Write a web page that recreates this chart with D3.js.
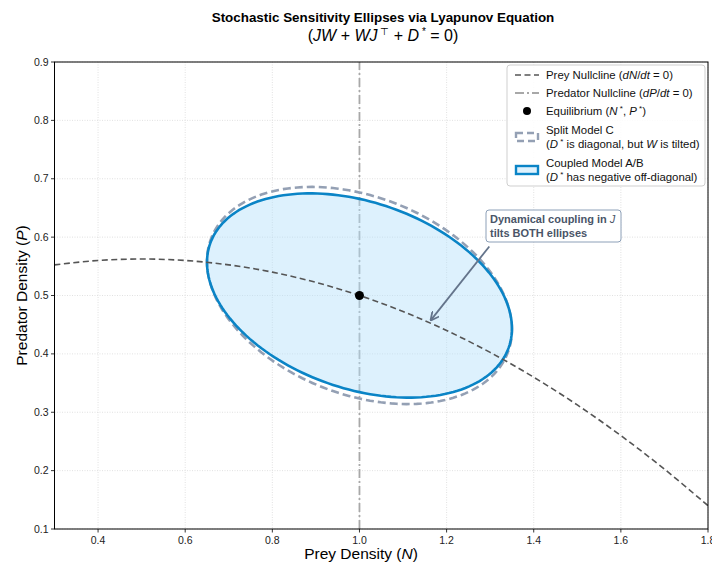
<!DOCTYPE html>
<html><head><meta charset="utf-8">
<script src="https://cdn.jsdelivr.net/npm/d3@7"></script>
<style>
body{margin:0;background:#fff;}
text{font-family:"Liberation Sans",Arial,sans-serif;}
</style></head>
<body><svg id="c" width="712" height="563"></svg>
<script>
// ---- data ----
const xTicks = [0.4,0.6,0.8,1.0,1.2,1.4,1.6,1.8];
const yTicks = [0.1,0.2,0.3,0.4,0.5,0.6,0.7,0.8,0.9];
const preyN = [0.3,0.4,0.5,0.6,0.7,0.8,0.9,1.0,1.1,1.2,1.3,1.4,1.5,1.6,1.7,1.8];
const preyP = [0.5525,0.56,0.5625,0.56,0.5525,0.54,0.5225,0.5,0.4725,0.44,0.4025,0.36,0.3125,0.26,0.2025,0.14];
const predatorN = [1.0,1.0];
const predatorP = [0.1,0.9];
const equilibrium = [1.0,0.5];
// ellipse covariance entries [Sxx, Sxy, Syy]
const splitC = [0.1225,-0.0205,0.0346];
const coupledAB = [0.1225,-0.0198,0.0306];
const annotXY = [1.163,0.457];
const annotText = [1.298,0.584];

const svg = d3.select("#c");
const L=54.5,R=708,T=62,B=529;
const x = d3.scaleLinear().domain([0.3,1.8]).range([L,R]);
const y = d3.scaleLinear().domain([0.1,0.9]).range([B,T]);

svg.append("defs").append("clipPath").attr("id","clip")
  .append("rect").attr("x",L).attr("y",T).attr("width",R-L).attr("height",B-T);

// grid
const g = svg.append("g");
g.selectAll(".gx").data(xTicks).enter().append("line")
  .attr("x1",d=>x(d)).attr("x2",d=>x(d)).attr("y1",T).attr("y2",B)
  .attr("stroke","#d9d9d9").attr("stroke-width",0.8).attr("stroke-dasharray","1,1.5");
g.selectAll(".gy").data(yTicks).enter().append("line")
  .attr("y1",d=>y(d)).attr("y2",d=>y(d)).attr("x1",L).attr("x2",R)
  .attr("stroke","#d9d9d9").attr("stroke-width",0.8).attr("stroke-dasharray","1,1.5");

const plot = svg.append("g").attr("clip-path","url(#clip)");

function ellipse(c, S){
  const l11=Math.sqrt(S[0]), l21=S[1]/l11, l22=Math.sqrt(S[2]-l21*l21);
  return d3.range(0,361,2).map(a=>{const t=a*Math.PI/180;
    return [c[0]+l11*Math.cos(t), c[1]+l21*Math.cos(t)+l22*Math.sin(t)];});
}
const line = d3.line().x(d=>x(d[0])).y(d=>y(d[1]));

// predator nullcline
plot.append("path").datum(predatorN.map((n,i)=>[n,predatorP[i]])).attr("d",line)
  .attr("fill","none").attr("stroke","#a8a8a8").attr("stroke-width",1.8)
  .attr("stroke-dasharray","9,3,2,3");

// split model C (dashed)
plot.append("path").attr("d",line(ellipse(equilibrium,splitC))+"Z")
  .attr("fill","none").attr("stroke","#94a0b4").attr("stroke-width",2.6)
  .attr("stroke-dasharray","8,4");

// coupled A/B
plot.append("path").attr("d",line(ellipse(equilibrium,coupledAB))+"Z")
  .attr("fill","#b3e0fb").attr("fill-opacity",0.45)
  .attr("stroke","#0a84c6").attr("stroke-width",2.6);

// prey nullcline
plot.append("path").datum(preyN.map((n,i)=>[n,preyP[i]]))
  .attr("d",d3.line().x(d=>x(d[0])).y(d=>y(d[1])).curve(d3.curveCatmullRom))
  .attr("fill","none").attr("stroke","#555").attr("stroke-width",1.6)
  .attr("stroke-dasharray","6,3.5");

// equilibrium
plot.append("circle").attr("cx",x(equilibrium[0])).attr("cy",y(equilibrium[1])).attr("r",4.5).attr("fill","#000");

// annotation arrow
svg.append("defs").append("marker").attr("id","ah").attr("viewBox","0 0 10 10")
  .attr("refX",10).attr("refY",5).attr("markerWidth",9).attr("markerHeight",9)
  .attr("markerUnits","userSpaceOnUse").attr("orient","auto")
  .append("path").attr("d","M0,0 L10,5 L0,10").attr("fill","none").attr("stroke","#64748b").attr("stroke-width",2);
svg.append("line").attr("x1",x(annotText[0])).attr("y1",y(annotText[1]))
  .attr("x2",x(annotXY[0])).attr("y2",y(annotXY[1]))
  .attr("stroke","#64748b").attr("stroke-width",1.8).attr("marker-end","url(#ah)");
const ag=svg.append("g");
ag.append("rect").attr("x",486).attr("y",210).attr("width",135).attr("height",32).attr("rx",3)
  .attr("fill","#fff").attr("stroke","#8da0b8").attr("stroke-width",1);
const at=ag.append("text").attr("font-size",11).attr("font-weight","bold").attr("fill","#4a5568");
const l1=at.append("tspan").attr("x",490).attr("y",223);
l1.append("tspan").text("Dynamical coupling in ");
l1.append("tspan").attr("font-style","italic").attr("font-weight","normal").text("J");
at.append("tspan").attr("x",490).attr("y",237).text("tilts BOTH ellipses");

// frame
svg.append("rect").attr("x",L).attr("y",T).attr("width",R-L).attr("height",B-T)
  .attr("fill","none").attr("stroke","#000").attr("stroke-width",1);

// ticks
svg.selectAll(".tx").data(xTicks).enter().append("line")
  .attr("x1",d=>x(d)).attr("x2",d=>x(d)).attr("y1",B).attr("y2",B+3.5).attr("stroke","#000").attr("stroke-width",0.8);
svg.selectAll(".tlx").data(xTicks).enter().append("text")
  .attr("x",d=>x(d)).attr("y",B+14.5).attr("text-anchor","middle").attr("font-size",10.5).attr("fill","#222")
  .text(d=>d.toFixed(1));
svg.selectAll(".ty").data(yTicks).enter().append("line")
  .attr("y1",d=>y(d)).attr("y2",d=>y(d)).attr("x1",L-3.5).attr("x2",L).attr("stroke","#000").attr("stroke-width",0.8);
svg.selectAll(".tly").data(yTicks).enter().append("text")
  .attr("x",L-6).attr("y",d=>y(d)+3.6).attr("text-anchor","end").attr("font-size",10.5).attr("fill","#222")
  .text(d=>d.toFixed(1));

// axis labels
const xl=svg.append("text").attr("x",361).attr("y",559).attr("text-anchor","middle").attr("font-size",15.5);
xl.append("tspan").text("Prey Density (");
xl.append("tspan").attr("font-style","italic").text("N");
xl.append("tspan").text(")");
const yl=svg.append("text").attr("transform",`translate(27,${(T+B)/2}) rotate(-90)`).attr("text-anchor","middle").attr("font-size",15.5);
yl.append("tspan").text("Predator Density (");
yl.append("tspan").attr("font-style","italic").text("P");
yl.append("tspan").text(")");

// title
svg.append("text").attr("x",383).attr("y",22).attr("text-anchor","middle").attr("font-size",13.4)
  .attr("font-weight","bold").text("Stochastic Sensitivity Ellipses via Lyapunov Equation");
const t2=svg.append("text").attr("x",383).attr("y",41).attr("text-anchor","middle").attr("font-size",16);
t2.append("tspan").text("(");
t2.append("tspan").attr("font-style","italic").text("JW");
t2.append("tspan").text(" + ");
t2.append("tspan").attr("font-style","italic").text("WJ");
t2.append("tspan").attr("font-size",10).attr("dy",-6).text(" ⊤");
t2.append("tspan").attr("dy",6).text("  + ");
t2.append("tspan").attr("font-style","italic").text("D");
t2.append("tspan").attr("font-size",10).attr("dy",-6).text(" *");
t2.append("tspan").attr("dy",6).text(" = 0)");

// legend
const lg=svg.append("g");
lg.append("rect").attr("x",507).attr("y",65).attr("width",198).attr("height",121).attr("rx",3)
  .attr("fill","#fff").attr("fill-opacity",0.85).attr("stroke","#cfcfcf");
const hx=515, hw=24, tx=546, fs=11.4;
function ltext(yy, parts){
  const t=lg.append("text").attr("x",tx).attr("y",yy).attr("font-size",fs).attr("fill","#111");
  parts.forEach(p=>{const s=t.append("tspan").text(p[0]);
    if(p[1]==="i") s.attr("font-style","italic");
    if(p[1]==="s") s.attr("font-size",8).attr("dy",-4.5);
    if(p[1]==="b") s.attr("dy",4.5);});
}
lg.append("line").attr("x1",hx).attr("x2",hx+hw).attr("y1",75).attr("y2",75).attr("stroke","#555").attr("stroke-width",1.6).attr("stroke-dasharray","6,3.5");
ltext(79,[["Prey Nullcline ("],["dN","i"],["/"],["dt","i"],[" = 0)"]]);
lg.append("line").attr("x1",hx).attr("x2",hx+hw).attr("y1",93).attr("y2",93).attr("stroke","#a8a8a8").attr("stroke-width",1.8).attr("stroke-dasharray","9,3,2,3");
ltext(97,[["Predator Nullcline ("],["dP","i"],["/"],["dt","i"],[" = 0)"]]);
lg.append("circle").attr("cx",hx+hw/2).attr("cy",111).attr("r",4).attr("fill","#000");
ltext(115,[["Equilibrium ("],["N","i"],[" *","s"],[", ","b"],["P","i"],[" *","s"],[")","b"]]);
lg.append("rect").attr("x",hx+1).attr("y",133).attr("width",hw-2).attr("height",8).attr("fill","none").attr("stroke","#94a0b4").attr("stroke-width",2.4).attr("stroke-dasharray","7,4");
ltext(134,[["Split Model C"]]);
ltext(148,[["("],["D","i"],[" *","s"],[" is diagonal, but ","b"],["W","i"],[" is tilted)"]]);
lg.append("rect").attr("x",hx+1).attr("y",166).attr("width",hw-2).attr("height",8).attr("fill","#dff2fd").attr("stroke","#0a84c6").attr("stroke-width",2.4);
ltext(167,[["Coupled Model A/B"]]);
ltext(181,[["("],["D","i"],[" *","s"],[" has negative off-diagonal)","b"]]);
</script></body></html>
